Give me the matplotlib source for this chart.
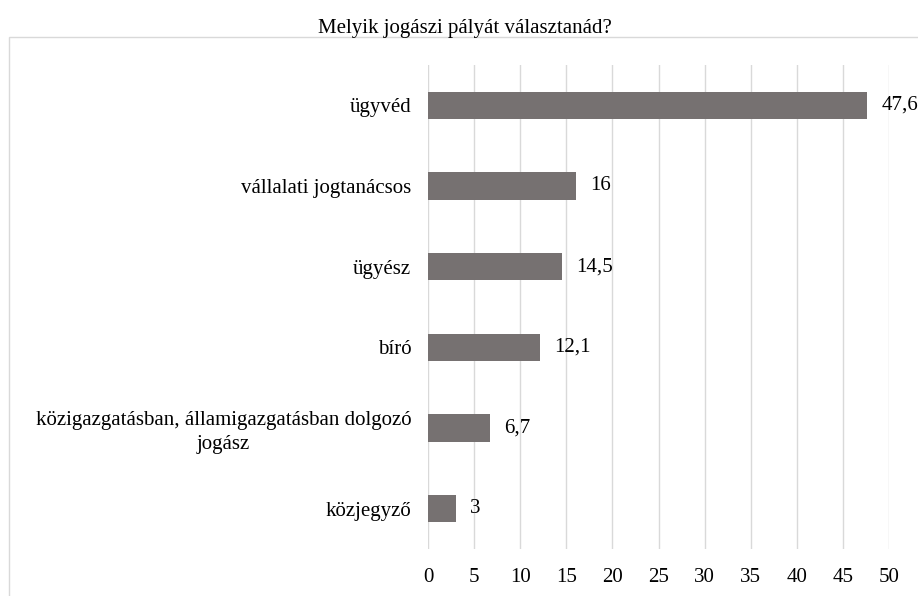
import matplotlib
matplotlib.use("Agg")
import matplotlib.pyplot as plt
from matplotlib.patches import Rectangle

# --- data (top to bottom as shown) ---
categories = ["ügyvéd", "vállalati jogtanácsos", "ügyész", "bíró",
              "közigazgatásban, államigazgatásban dolgozó\njogász", "közjegyző"]
values = [47.6, 16, 14.5, 12.1, 6.7, 3]
value_labels = ["47,6", "16", "14,5", "12,1", "6,7", "3"]
xticks = [0, 5, 10, 15, 20, 25, 30, 35, 40, 45, 50]

plt.rcParams["font.family"] = ["Liberation Serif", "DejaVu Serif"]
fs = 15

fig = plt.figure(figsize=(9.18, 5.96), dpi=100)
ax = fig.add_axes([428 / 918, 1 - 549 / 596, (889 - 428) / 918, (549 - 65) / 596])

pos = list(range(len(categories)))
ax.barh(pos, values, height=0.34, color="#767171", zorder=3)
ax.set_ylim(len(categories) - 0.5, -0.5)
ax.set_xlim(0, 50)
ax.set_xticks(xticks)
ax.set_yticks(pos)
ax.set_yticklabels(categories, multialignment="center", linespacing=1.35)
ax.tick_params(axis="both", length=0, labelsize=fs)
ax.tick_params(axis="y", pad=12)
ax.tick_params(axis="x", pad=14)
ax.grid(axis="x", color="#D9D9D9", linewidth=1, zorder=0)
for s in ax.spines.values():
    s.set_visible(False)

for p, v, lab in zip(pos, values, value_labels):
    ax.annotate(lab, (v, p), xytext=(10.5, 0), textcoords="offset points",
                va="center", ha="left", fontsize=fs, annotation_clip=False)

# chart-area border
fig.patches.append(Rectangle((9 / 918, -0.1), 1.2, (596 - 37) / 596 + 0.1,
                             transform=fig.transFigure, fill=False,
                             edgecolor="#D9D9D9", linewidth=1))

fig.text(465 / 918, 1 - 28 / 596, "Melyik jogászi pályát választanád?",
         ha="center", va="center", fontsize=fs)

fig.savefig("out.png", dpi=100)
